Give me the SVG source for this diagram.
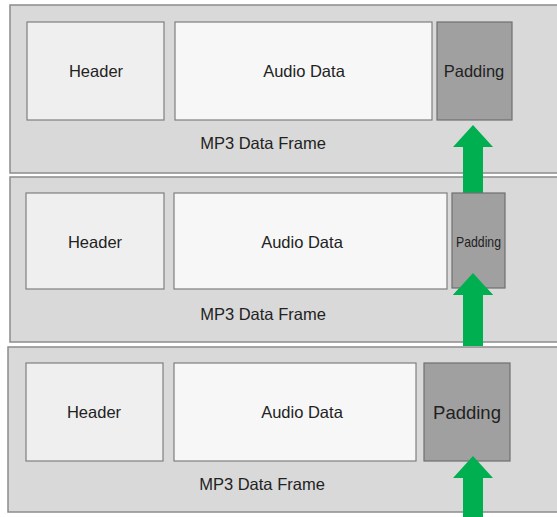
<svg xmlns="http://www.w3.org/2000/svg" width="557" height="517" viewBox="0 0 557 517">
<style>
.frame{fill:#d9d9d9;stroke:#8c8c8c;stroke-width:1.5}
.hdr{fill:#efefef;stroke:#7f7f7f;stroke-width:1.2}
.aud{fill:#f7f7f7;stroke:#7f7f7f;stroke-width:1.2}
.pad{fill:#a0a0a0;stroke:#6f6f6f;stroke-width:1.2}
text{font-family:"Liberation Sans",Arial,sans-serif;fill:#222;text-anchor:middle;dominant-baseline:central}
.t{font-size:16.5px}
.arrow{fill:#00b050}
</style>
<rect width="557" height="517" fill="#ffffff"/>
<g id="frame1">
<rect class="frame" x="10" y="5" width="560" height="168"/>
<text class="t" x="263" y="143">MP3 Data Frame</text>
</g>
<g id="header1"><rect class="hdr" x="27" y="22" width="137" height="98"/><text class="t" x="96" y="71">Header</text></g>
<g id="audio1"><rect class="aud" x="175" y="22" width="257" height="98"/><text class="t" x="304" y="71">Audio Data</text></g>
<g id="padding1"><rect class="pad" x="437" y="22" width="75" height="98"/><text x="474" y="71" style="font-size:16.5px">Padding</text></g>

<g id="frame2">
<rect class="frame" x="10" y="177" width="560" height="165"/>
<text class="t" x="263" y="314">MP3 Data Frame</text>
</g>
<g id="header2"><rect class="hdr" x="26" y="193" width="138" height="96"/><text class="t" x="95" y="242">Header</text></g>
<g id="audio2"><rect class="aud" x="174" y="193" width="273" height="96"/><text class="t" x="302" y="242">Audio Data</text></g>

<g id="frame3">
<rect class="frame" x="8" y="347" width="562" height="165"/>
<text class="t" x="262" y="484">MP3 Data Frame</text>
</g>
<g id="header3"><rect class="hdr" x="26" y="363" width="137" height="98"/><text class="t" x="94" y="412">Header</text></g>
<g id="audio3"><rect class="aud" x="174" y="363" width="242" height="98"/><text class="t" x="302" y="412">Audio Data</text></g>
<g id="padding3"><rect class="pad" x="424" y="363" width="86" height="98"/><text x="467" y="412" style="font-size:18.5px">Padding</text></g>

<g id="connectors">
<polygon class="arrow" points="473,125 493,147 483,147 483,196 463,196 463,147 453,147"/>
<polygon class="arrow" points="473,273 493,295 483,295 483,346 463,346 463,295 453,295"/>
<polygon class="arrow" points="473,456 493,478 483,478 483,517 463,517 463,478 453,478"/>
</g>
<g id="padding2"><rect class="pad" x="452" y="193" width="53" height="95"/><polygon class="arrow" points="473,273 493,295 483,295 483,289 463,289 463,295 453,295"/><text x="478.5" y="242" style="font-size:14.5px" textLength="45" lengthAdjust="spacingAndGlyphs">Padding</text></g>
</svg>
